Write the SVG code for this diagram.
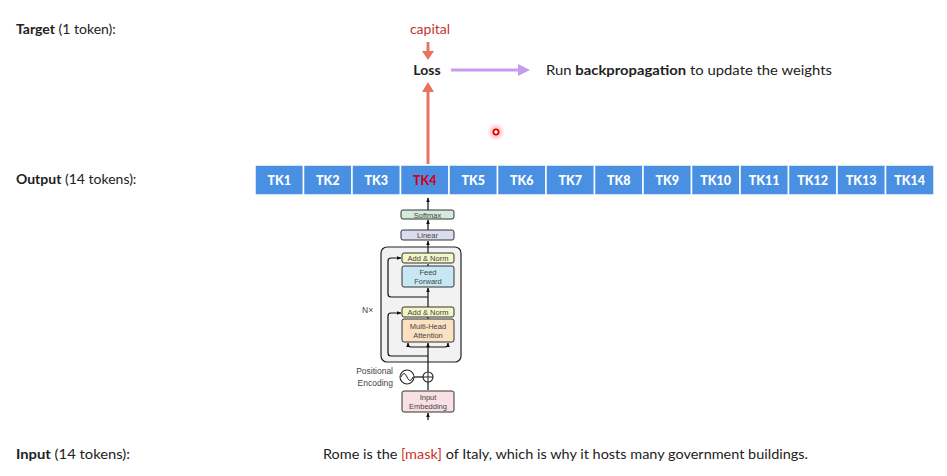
<svg xmlns="http://www.w3.org/2000/svg" width="947" height="476" viewBox="0 0 947 476">
<style>
.lbl{font-family:Lato,"Open Sans","DejaVu Sans",sans-serif;font-size:14px;fill:#222}
.b{font-weight:bold}
.tk rect{fill:#4a90e2;stroke:#ffffff;stroke-width:1.5}
.tk text{font-family:Lato,"Liberation Sans",sans-serif;font-size:12.5px;font-weight:900;fill:#ffffff;text-anchor:middle}
.blk{stroke:#333;stroke-width:1;rx:2}
.bt{font-family:"Liberation Sans",Arial,sans-serif;font-size:7.5px;fill:#444;text-anchor:middle}
.ln{fill:none;stroke:#111;stroke-width:1.2}
.sm{font-family:"Liberation Sans",Arial,sans-serif;font-size:8.5px;fill:#444}
</style>
<defs>
<marker id="ah" viewBox="0 0 10 10" refX="9" refY="5" markerWidth="4" markerHeight="4" orient="auto"><path d="M0,1 L10,5 L0,9 z" fill="#111"/></marker>
<radialGradient id="glow"><stop offset="0" stop-color="#ff4040" stop-opacity="0.5"/><stop offset="1" stop-color="#ff4040" stop-opacity="0"/></radialGradient>
</defs>
<rect width="947" height="476" fill="#ffffff"/>

<g id="labels">
<text class="lbl" x="16" y="34"><tspan class="b">Target</tspan> (1 token):</text>
<text class="lbl" x="16" y="184"><tspan class="b">Output</tspan> (14 tokens):</text>
<text class="lbl" x="16" y="459" textLength="114" lengthAdjust="spacingAndGlyphs"><tspan class="b">Input</tspan> (14 tokens):</text>
</g>

<g id="input-sentence">
<text class="lbl" x="323" y="459" textLength="485" lengthAdjust="spacingAndGlyphs">Rome is the <tspan fill="#d0302c">[mask]</tspan> of Italy, which is why it hosts many government buildings.</text>
</g>

<g id="capital"><text class="lbl" x="430" y="34" text-anchor="middle" fill="#c8302c" style="fill:#c8302c">capital</text></g>
<g id="loss"><text class="lbl b" x="427" y="75" text-anchor="middle" style="font-weight:bold">Loss</text></g>
<g id="backprop"><text class="lbl" x="546" y="75" textLength="286" lengthAdjust="spacingAndGlyphs">Run <tspan class="b">backpropagation</tspan> to update the weights</text></g>

<g id="connectors">
<!-- capital to loss -->
<line x1="428" y1="42" x2="428" y2="52" stroke="#e8735f" stroke-width="3"/>
<path d="M422,51 L434,51 L428,60 z" fill="#e8735f"/>
<!-- TK4 to loss -->
<line x1="428" y1="164" x2="428" y2="91" stroke="#e8735f" stroke-width="3"/>
<path d="M422,92 L434,92 L428,82 z" fill="#e8735f"/>
<!-- loss to backprop -->
<line x1="451" y1="70" x2="519" y2="70" stroke="#c49cf0" stroke-width="3"/>
<path d="M518,64 L530,70 L518,76 z" fill="#c49cf0"/>
</g>

<g id="cursor">
<circle cx="496" cy="132" r="9" fill="url(#glow)"/>
<circle cx="496" cy="132" r="2.6" fill="#fff" stroke="#e00000" stroke-width="1.8"/>
</g>

<g id="tokens" class="tk">
<g id="tk1"><rect x="255" y="165" width="48.5" height="30"/><text x="279.2" y="185">TK1</text></g>
<g id="tk2"><rect x="303.5" y="165" width="48.5" height="30"/><text x="327.7" y="185">TK2</text></g>
<g id="tk3"><rect x="352" y="165" width="48.5" height="30"/><text x="376.2" y="185">TK3</text></g>
<g id="tk4"><rect x="400.5" y="165" width="48.5" height="30"/><text x="424.7" y="185" style="fill:#d0021b">TK4</text></g>
<g id="tk5"><rect x="449" y="165" width="48.5" height="30"/><text x="473.2" y="185">TK5</text></g>
<g id="tk6"><rect x="497.5" y="165" width="48.5" height="30"/><text x="521.7" y="185">TK6</text></g>
<g id="tk7"><rect x="546" y="165" width="48.5" height="30"/><text x="570.2" y="185">TK7</text></g>
<g id="tk8"><rect x="594.5" y="165" width="48.5" height="30"/><text x="618.7" y="185">TK8</text></g>
<g id="tk9"><rect x="643" y="165" width="48.5" height="30"/><text x="667.2" y="185">TK9</text></g>
<g id="tk10"><rect x="691.5" y="165" width="48.5" height="30"/><text x="715.7" y="185">TK10</text></g>
<g id="tk11"><rect x="740" y="165" width="48.5" height="30"/><text x="764.2" y="185">TK11</text></g>
<g id="tk12"><rect x="788.5" y="165" width="48.5" height="30"/><text x="812.7" y="185">TK12</text></g>
<g id="tk13"><rect x="837" y="165" width="48.5" height="30"/><text x="861.2" y="185">TK13</text></g>
<g id="tk14"><rect x="885.5" y="165" width="48.5" height="30"/><text x="909.7" y="185">TK14</text></g>
</g>

<g id="transformer">
<g id="nx-block"><rect x="381" y="247" width="80" height="115" rx="6" fill="#f2f2f2" stroke="#222" stroke-width="1.2"/>
<text class="sm" x="362" y="313">N×</text></g>

<g id="tf-connectors">
<!-- main vertical -->
<line class="ln" x1="428" y1="420" x2="428" y2="413" marker-end="url(#ah)"/>
<line class="ln" x1="428" y1="390" x2="428" y2="382"/>
<line class="ln" x1="428" y1="372" x2="428" y2="343" marker-end="url(#ah)"/>
<line class="ln" x1="428" y1="319" x2="428" y2="317" />
<line class="ln" x1="428" y1="307" x2="428" y2="288" marker-end="url(#ah)"/>
<line class="ln" x1="428" y1="266" x2="428" y2="264"/>
<line class="ln" x1="428" y1="253" x2="428" y2="241" marker-end="url(#ah)"/>
<line class="ln" x1="428" y1="230" x2="428" y2="220" marker-end="url(#ah)"/>
<line class="ln" x1="428" y1="210" x2="428" y2="198" marker-end="url(#ah)"/>
<!-- attention branches -->
<path class="ln" d="M428,347 L411,347 Q408,347 408,344 L408,343" marker-end="url(#ah)"/>
<path class="ln" d="M428,347 L445,347 Q448,347 448,344 L448,343" marker-end="url(#ah)"/>
<!-- residual loops -->
<path class="ln" d="M428,356 L391,356 Q388,356 388,353 L388,316 Q388,313 391,313 L401,313" marker-end="url(#ah)"/>
<path class="ln" d="M428,297 L391,297 Q388,297 388,294 L388,261 Q388,258 391,258 L401,258" marker-end="url(#ah)"/>
<!-- positional encoding to plus -->
<line class="ln" x1="414" y1="377" x2="423" y2="377"/>
</g>

<g id="softmax"><rect class="blk" x="401" y="210" width="53" height="9" fill="#d3ebdb"/><text class="bt" x="427.5" y="217.5">Softmax</text></g>
<g id="linear"><rect class="blk" x="401" y="230" width="53" height="10" fill="#dcdcef"/><text class="bt" x="427.5" y="238">Linear</text></g>
<g id="addnorm2"><rect class="blk" x="402" y="253" width="52" height="10" fill="#f4f6c6"/><text class="bt" x="428" y="261">Add &amp; Norm</text></g>
<g id="feedforward"><rect class="blk" x="402" y="266" width="52" height="21" fill="#c8e7f4"/><text class="bt" x="428" y="275">Feed</text><text class="bt" x="428" y="284">Forward</text></g>
<g id="addnorm1"><rect class="blk" x="402" y="307" width="52" height="10" fill="#f4f6c6"/><text class="bt" x="428" y="315">Add &amp; Norm</text></g>
<g id="mha"><rect class="blk" x="402" y="319" width="52" height="23" fill="#fbe1c2"/><text class="bt" x="428" y="329">Multi-Head</text><text class="bt" x="428" y="338">Attention</text></g>
<g id="posenc">
<circle cx="407" cy="377" r="7" fill="#fff" stroke="#222" stroke-width="1.1"/>
<path d="M401,377 Q404,370 407,377 Q410,384 413,377" fill="none" stroke="#222" stroke-width="1"/>
<text class="sm" x="393" y="374" text-anchor="end">Positional</text>
<text class="sm" x="393" y="386" text-anchor="end">Encoding</text>
</g>
<g id="plus">
<circle cx="428" cy="377" r="5" fill="#fff" stroke="#222" stroke-width="1.1"/>
<line x1="423" y1="377" x2="433" y2="377" stroke="#222" stroke-width="1"/>
<line x1="428" y1="372" x2="428" y2="382" stroke="#222" stroke-width="1"/>
</g>
<g id="embedding"><rect class="blk" x="402" y="391" width="52" height="21" fill="#f9e0e4"/><text class="bt" x="428" y="400">Input</text><text class="bt" x="428" y="409">Embedding</text></g>
</g>
</svg>
